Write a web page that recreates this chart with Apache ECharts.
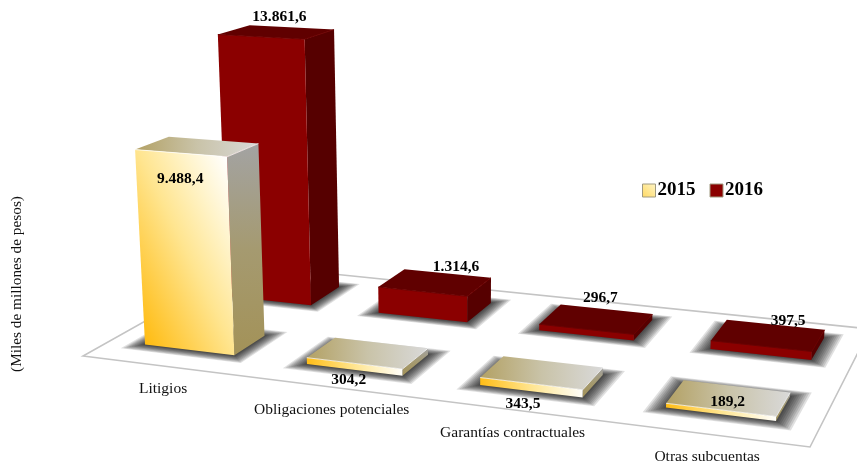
<!DOCTYPE html>
<html>
<head>
<meta charset="utf-8">
<title>Subcuentas 2015 - 2016</title>
<script src="https://cdn.jsdelivr.net/npm/echarts@6/dist/echarts.min.js"></script>
<style>
  html, body { margin: 0; padding: 0; background: #fff; }
  #chart { width: 857px; height: 464px; }
</style>
</head>
<body>
<div id="chart"></div>
<script>
// datos
const categories = ['Litigios', 'Obligaciones potenciales', 'Garantías contractuales', 'Otras subcuentas'];
const values2015 = [9488.4, 304.2, 343.5, 189.2];
const values2016 = [13861.6, 1314.6, 296.7, 397.5];
const labels2015 = ['9.488,4', '304,2', '343,5', '189,2'];
const labels2016 = ['13.861,6', '1.314,6', '296,7', '397,5'];

// desplazamiento de cada etiqueta respecto al centro de la cara superior
const labelShift2015 = [[-17, 32], [-19, 27], [-19, 31], [-1, 4]];
const labelShift2016 = [[3, -15], [21, -15], [4, -21], [20, -14]];

const FONT = '"Liberation Serif", "Times New Roman", serif';
const GRID = { left: 100, top: 127, width: 700, height: 314 };
const BAR_SHARE = 0.56; // ancho de la barra dentro de la banda

// esquinas del piso en pantalla: frente izq, frente der, fondo der, fondo izq
const FLOOR = [[83, 356], [810, 447], [870, 329], [245, 265]];
// punto de fuga de las verticales
const VANISH = [460, 6500];

// homografia del cuadrado unidad (u a lo largo del frente, v hacia el fondo)
function buildHomography(q) {
  const dx1 = q[1][0] - q[2][0], dx2 = q[3][0] - q[2][0], sx = q[0][0] - q[1][0] + q[2][0] - q[3][0];
  const dy1 = q[1][1] - q[2][1], dy2 = q[3][1] - q[2][1], sy = q[0][1] - q[1][1] + q[2][1] - q[3][1];
  const det = dx1 * dy2 - dx2 * dy1;
  const g = (sx * dy2 - dx2 * sy) / det;
  const h = (dx1 * sy - sx * dy1) / det;
  return {
    a: q[1][0] - q[0][0] + g * q[1][0], b: q[3][0] - q[0][0] + h * q[3][0], c: q[0][0],
    d: q[1][1] - q[0][1] + g * q[1][1], e: q[3][1] - q[0][1] + h * q[3][1], f: q[0][1],
    g: g, h: h
  };
}
const H = buildHomography(FLOOR);

// punto del piso elevado "lift" pixeles de escala (lift=0 es el piso)
function project(u, v, lift) {
  const w = H.g * u + H.h * v + 1;
  const x = (H.a * u + H.b * v + H.c) / w;
  const y = (H.d * u + H.e * v + H.f) / w;
  const hpx = (lift || 0) / w;
  return [x - hpx * (VANISH[0] - x) / (VANISH[1] - y), y - hpx];
}

function colorStops(stops) {
  return stops.map(function (c, i) {
    return { offset: stops.length === 1 ? 0 : i / (stops.length - 1), color: c };
  });
}

function grad(x, y, x2, y2, stops) {
  return new echarts.graphic.LinearGradient(x, y, x2, y2, colorStops(stops));
}

const FRONT_2015 = ['#ffbb10', '#ffd050', '#ffe590', '#fff3c8', '#ffffff'];

const skin2015 = {
  // en la barra alta las lineas de igual color siguen la diagonal de la cara
  front: function (fl, fr, tfr, tfl) {
    if (fl[1] - tfl[1] < fr[0] - fl[0]) return grad(0, 1, 1, 0, FRONT_2015);
    const dx = fr[0] - tfl[0], dy = fr[1] - tfl[1], len = Math.sqrt(dx * dx + dy * dy);
    const nx = dy / len, ny = -dx / len;
    const t = (tfr[0] - fl[0]) * nx + (tfr[1] - fl[1]) * ny;
    return new echarts.graphic.LinearGradient(fl[0], fl[1], fl[0] + nx * t, fl[1] + ny * t, colorStops(FRONT_2015), true);
  },
  top: function () { return grad(0, 0, 1, 0, ['#b3a164', '#c9c3a8', '#d9d9d9']); },
  side: function () { return grad(0, 0, 0, 1, ['#a3a3a3', '#a59a70', '#a39258']); },
  edge: 'rgba(255,255,255,0.75)'
};
const skin2016 = {
  front: function () { return '#8b0000'; },
  top: function () { return '#600000'; },
  side: function () { return '#560000'; },
  edge: '#6c0000'
};

// sombra difusa sobre el piso: capas translucidas que se van ampliando
function shadowLayers(u0, u1, vNear, vFar) {
  const layers = [];
  for (let k = 9; k >= 0; k--) {
    const du = 0.0026 * k, dv = 0.006 * k;
    layers.push({
      type: 'polygon',
      shape: {
        points: [project(u0 - du, vNear - dv), project(u1 + du, vNear - dv),
          project(u1 + du, vFar + dv), project(u0 - du, vFar + dv)]
      },
      style: { fill: 'rgba(0,0,0,0.12)' }
    });
  }
  return layers;
}

function barRenderer(vNear, vFar, skin, texts, shifts) {
  return function (params, api) {
    const i = api.value(0);
    const base = api.coord([i, 0]);
    const peak = api.coord([i, api.value(1)]);
    const lift = base[1] - peak[1];
    const uc = (base[0] - GRID.left) / GRID.width;
    const half = api.size([1, 0])[0] / GRID.width * BAR_SHARE / 2;
    const u0 = uc - half, u1 = uc + half;

    const fl = project(u0, vNear), fr = project(u1, vNear), br = project(u1, vFar);
    const tfl = project(u0, vNear, lift), tfr = project(u1, vNear, lift);
    const tbr = project(u1, vFar, lift), tbl = project(u0, vFar, lift);
    const center = project(uc, (vNear + vFar) / 2, lift);

    return {
      type: 'group',
      children: shadowLayers(u0, u1, vNear, vFar).concat([
        { type: 'polygon', shape: { points: [fr, br, tbr, tfr] }, style: { fill: skin.side() } },
        { type: 'polygon', shape: { points: [tfl, tfr, tbr, tbl] }, style: { fill: skin.top() } },
        { type: 'polygon', shape: { points: [fl, fr, tfr, tfl] }, style: { fill: skin.front(fl, fr, tfr, tfl) } },
        {
          type: 'polyline', shape: { points: [tfl, tfr, tbr] },
          style: { fill: 'none', stroke: skin.edge, lineWidth: 1 }
        },
        {
          type: 'text', z2: 10,
          x: center[0] + shifts[i][0], y: center[1] + shifts[i][1],
          style: {
            text: texts[i], fill: '#000', align: 'center', verticalAlign: 'middle',
            font: 'bold 15.5px ' + FONT
          }
        }
      ])
    };
  };
}

function renderFloor() {
  return {
    type: 'polygon', shape: { points: FLOOR },
    style: { fill: '#fff', stroke: '#c4c4c4', lineWidth: 1.6 }
  };
}

function renderCategory(params, api) {
  const i = api.value(0);
  const base = api.coord([i, 0]);
  const p = project((base[0] - GRID.left) / GRID.width, 0);
  return {
    type: 'text', x: p[0], y: p[1] + 23,
    style: {
      text: categories[i], fill: '#111', align: 'center', verticalAlign: 'middle',
      font: '15.5px ' + FONT
    }
  };
}

function pairs(values) {
  return values.map(function (v, i) { return [i, v]; });
}

const chart = echarts.init(document.getElementById('chart'));
chart.setOption({
  animation: false,
  backgroundColor: '#fff',
  grid: GRID,
  xAxis: { type: 'category', data: categories, show: false },
  yAxis: {
    type: 'value', min: 0, max: 15000,
    name: '(Miles de millones de pesos)', nameLocation: 'middle', nameRotate: 90, nameGap: 76,
    nameTextStyle: { fontFamily: FONT, fontSize: 15.3, color: '#111' },
    axisLine: { show: false }, axisTick: { show: false }, axisLabel: { show: false }, splitLine: { show: false }
  },
  legend: {
    data: ['2015', '2016'], left: 637, top: 176, icon: 'rect', itemWidth: 13, itemHeight: 13, itemGap: 14,
    textStyle: { fontFamily: FONT, fontWeight: 'bold', fontSize: 19, color: '#000', padding: [0, 0, 0, -3] },
    itemStyle: { borderColor: '#a09a80', borderWidth: 1 }
  },
  series: [
    { name: 'piso', type: 'custom', silent: true, z: 1, data: [[0, 0]], renderItem: renderFloor },
    {
      name: '2016', type: 'custom', z: 2, data: pairs(values2016),
      itemStyle: { color: '#8b0000' },
      renderItem: barRenderer(0.66, 0.87, skin2016, labels2016, labelShift2016)
    },
    {
      name: '2015', type: 'custom', z: 3, data: pairs(values2015),
      itemStyle: { color: grad(0, 1, 1, 0, ['#ffd860', '#fff6c8']) },
      renderItem: barRenderer(0.15, 0.34, skin2015, labels2015, labelShift2015)
    },
    { name: 'categorias', type: 'custom', silent: true, z: 4, data: pairs(categories.map(function () { return 0; })), renderItem: renderCategory }
  ]
});
</script>
</body>
</html>
